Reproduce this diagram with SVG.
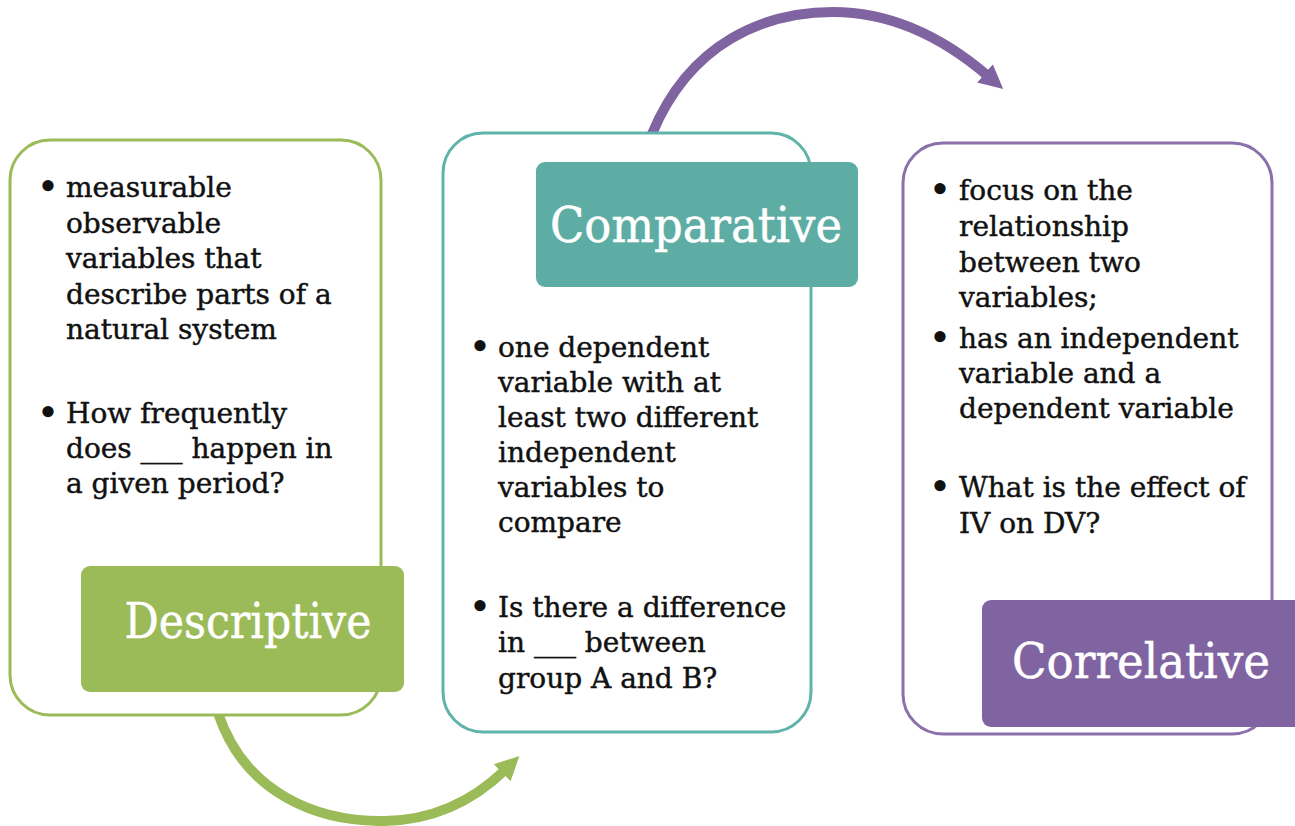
<svg xmlns="http://www.w3.org/2000/svg" width="1295" height="826" viewBox="0 0 1295 826">
<defs>
<style>
.body{font-family:"DejaVu Serif","Liberation Serif",serif;font-size:28px;fill:#111;stroke:#111;stroke-width:0.45px;}
.bul{font-family:"DejaVu Serif","Liberation Serif",serif;font-size:32px;font-weight:bold;fill:#111;text-anchor:middle;}
.lbl{font-family:"DejaVu Serif","Liberation Serif",serif;font-size:49px;fill:#ffffff;stroke:#ffffff;stroke-width:0.5px;text-anchor:middle;}
.outer{fill:#ffffff;stroke-width:3;}
.conn{fill:none;stroke-width:10;stroke-linecap:butt;}
</style>
<marker id="ahG" markerUnits="userSpaceOnUse" markerWidth="30" markerHeight="30" viewBox="0 0 30 30" refX="4" refY="15" orient="auto">
<path d="M0,3 L24,15 L0,27 Z" fill="#9bbb59"/>
</marker>
<marker id="ahP" markerUnits="userSpaceOnUse" markerWidth="30" markerHeight="30" viewBox="0 0 30 30" refX="4" refY="15" orient="auto">
<path d="M0,3 L24,15 L0,27 Z" fill="#8064a2"/>
</marker>
</defs>
<rect width="1295" height="826" fill="#ffffff"/>
<g id="connectors">
<path class="conn" stroke="#9bbb59" d="M218,713 C245,794 318,822 385,821 C438,820 476,798 505,770" marker-end="url(#ahG)"/>
<path class="conn" stroke="#8064a2" d="M652,134 C690,42 765,12 833,12 C895,12 946,40 988,76" marker-end="url(#ahP)"/>
</g>
<g id="node-descriptive">
<rect class="outer" x="10" y="140" width="371" height="575" rx="40" stroke="#9bbb59"/>
<text class="bul" x="48" y="197">•</text>
<text class="body" x="66" y="197">measurable</text>
<text class="body" x="66" y="232.5">observable</text>
<text class="body" x="66" y="268">variables that</text>
<text class="body" x="66" y="303.5">describe parts of a</text>
<text class="body" x="66" y="339">natural system</text>
<text class="bul" x="48" y="423">•</text>
<text class="body" x="66" y="423">How frequently</text>
<text class="body" x="66" y="458">does ___ happen in</text>
<text class="body" x="66" y="493">a given period?</text>
<rect x="81" y="566" width="323" height="126" rx="9" fill="#9bbb59"/>
<text class="lbl" x="248" y="638" textLength="247" lengthAdjust="spacingAndGlyphs">Descriptive</text>
</g>
<g id="node-comparative">
<rect class="outer" x="443" y="133" width="368" height="599" rx="40" stroke="#5fb3aa"/>
<rect x="536" y="162" width="322" height="125" rx="9" fill="#5dada5"/>
<text class="lbl" x="696" y="242" textLength="292" lengthAdjust="spacingAndGlyphs">Comparative</text>
<text class="bul" x="480" y="357">•</text>
<text class="body" x="498" y="357">one dependent</text>
<text class="body" x="498" y="392">variable with at</text>
<text class="body" x="498" y="427">least two different</text>
<text class="body" x="498" y="462">independent</text>
<text class="body" x="498" y="497">variables to</text>
<text class="body" x="498" y="532">compare</text>
<text class="bul" x="480" y="617">•</text>
<text class="body" x="498" y="617">Is there a difference</text>
<text class="body" x="498" y="652">in ___ between</text>
<text class="body" x="498" y="688">group A and B?</text>
</g>
<g id="node-correlative">
<rect class="outer" x="903" y="143" width="369" height="591" rx="40" stroke="#8a71ab"/>
<text class="bul" x="940" y="200">•</text>
<text class="body" x="959" y="200">focus on the</text>
<text class="body" x="959" y="236">relationship</text>
<text class="body" x="959" y="272">between two</text>
<text class="body" x="959" y="307">variables;</text>
<text class="bul" x="940" y="348">•</text>
<text class="body" x="959" y="348">has an independent</text>
<text class="body" x="959" y="383">variable and a</text>
<text class="body" x="959" y="418">dependent variable</text>
<text class="bul" x="940" y="497">•</text>
<text class="body" x="959" y="497">What is the effect of</text>
<text class="body" x="959" y="533">IV on DV?</text>
<rect x="982" y="600" width="322" height="127" rx="9" fill="#8064a2"/>
<text class="lbl" x="1141" y="678" textLength="258" lengthAdjust="spacingAndGlyphs">Correlative</text>
</g>
</svg>
